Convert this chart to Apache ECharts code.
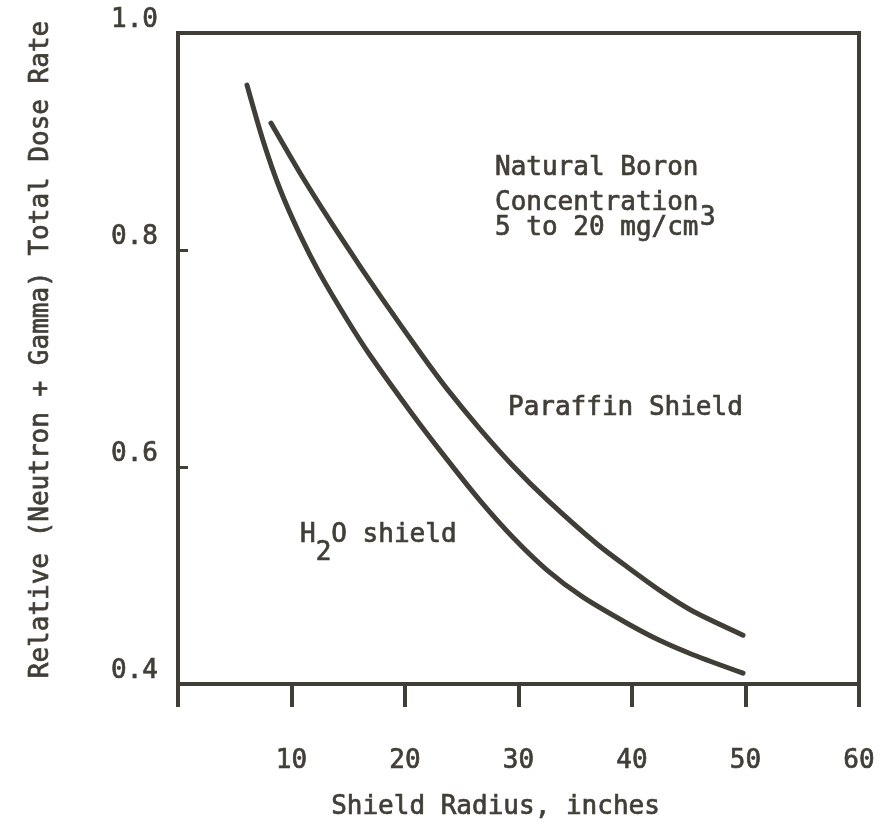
<!DOCTYPE html>
<html><head><meta charset="utf-8">
<script src="https://cdn.jsdelivr.net/npm/echarts@6/dist/echarts.min.js"></script>
<style>html,body{margin:0;padding:0;background:#fff}#c{width:878px;height:825px}</style>
</head><body><div id="c"></div>
<script>
// Axis ticks
const xTicks = [0, 10, 20, 30, 40, 50, 60];
const yTicks = [0.4, 0.6, 0.8, 1.0];
// H2O shield curve
const h2oRadius = [6.08, 7.49, 8.99, 10.75, 12.51, 14.89, 16.92, 20.70, 23.70, 26.61, 29.52, 32.51, 35.68, 39.56, 42.47, 45.37, 49.78];
const h2oDose   = [0.952, 0.901, 0.856, 0.814, 0.778, 0.736, 0.703, 0.648, 0.607, 0.569, 0.535, 0.505, 0.480, 0.456, 0.440, 0.427, 0.410];
// Paraffin shield curve
const paraffinRadius = [8.19, 10.75, 13.39, 16.04, 18.06, 21.50, 23.70, 26.61, 29.52, 32.51, 36.92, 39.56, 42.47, 45.37, 49.78];
const paraffinDose   = [0.917, 0.871, 0.827, 0.785, 0.754, 0.703, 0.672, 0.635, 0.601, 0.570, 0.529, 0.508, 0.486, 0.467, 0.445];
// Texts
const xName = 'Shield Radius, inches';
const yName = 'Relative (Neutron + Gamma) Total Dose Rate';
const noteLines = ['Natural Boron', 'Concentration', '5 to 20 mg/cm'];
const noteSup = '3';
const paraffinLabel = 'Paraffin Shield';
const h2oLabel = ['H', '2', 'O shield'];

const INK = '#413d37';
const FONT = '"DejaVu Sans Mono", monospace';
const FS = 26;
const BW = 0.7;
const zip = (a, b) => a.map((v, i) => [v, b[i]]);

const chart = echarts.init(document.getElementById('c'), null, {renderer: 'canvas'});
const txt = (s, x, y) => ({type: 'text', x, y, style: {text: s, font: FS + 'px ' + FONT, fill: INK, stroke: INK, lineWidth: BW, align: 'left', verticalAlign: 'middle'}});
const tstyle = {fontFamily: FONT, fontSize: FS, color: INK, textBorderColor: INK, textBorderWidth: BW};
chart.setOption({
  backgroundColor: '#ffffff',
  animation: false,
  grid: {left: 178, right: 19, top: 33, bottom: 141, show: true, borderColor: INK, borderWidth: 4, backgroundColor: 'transparent', containLabel: false, outerBoundsMode: 'none'},
  xAxis: {
    type: 'value', min: xTicks[0], max: xTicks[xTicks.length - 1], interval: 10,
    name: xName, nameLocation: 'middle', nameGap: 110,
    nameTextStyle: Object.assign({}, tstyle, {padding: [0, 46, 0, 0]}),
    axisLine: {show: true, onZero: false, lineStyle: {color: INK, width: 4}},
    axisTick: {show: true, inside: false, length: 23, lineStyle: {color: INK, width: 4}},
    axisLabel: Object.assign({}, tstyle, {margin: 64, formatter: v => (v === 0 ? '' : String(v))}),
    splitLine: {show: false}
  },
  yAxis: {
    type: 'value', min: yTicks[0], max: yTicks[yTicks.length - 1], interval: 0.2,
    name: yName, nameLocation: 'middle', nameGap: 124,
    nameTextStyle: Object.assign({}, tstyle, {padding: [0, 0, 0, 18]}),
    axisLine: {show: true, onZero: false, lineStyle: {color: INK, width: 4}},
    axisTick: {show: true, inside: true, length: 10, lineStyle: {color: INK, width: 3}},
    axisLabel: Object.assign({}, tstyle, {margin: 20, verticalAlign: 'bottom', formatter: v => v.toFixed(1)}),
    splitLine: {show: false}
  },
  series: [
    {type: 'line', name: 'H2O shield', data: zip(h2oRadius, h2oDose), smooth: 0.25, showSymbol: false,
     lineStyle: {color: INK, width: 5, cap: 'round', join: 'round'}},
    {type: 'line', name: 'Paraffin Shield', data: zip(paraffinRadius, paraffinDose), smooth: 0.25, showSymbol: false,
     lineStyle: {color: INK, width: 5, cap: 'round', join: 'round'}}
  ],
  graphic: [
    txt(noteLines[0], 495, 168),
    txt(noteLines[1], 495, 203),
    txt(noteLines[2], 495, 228),
    txt(noteSup, 700, 218),
    txt(paraffinLabel, 508, 408),
    txt(h2oLabel[0] + ' ' + h2oLabel[2], 300, 535),
    txt(h2oLabel[1], 315.7, 553)
  ]
});
</script></body></html>
